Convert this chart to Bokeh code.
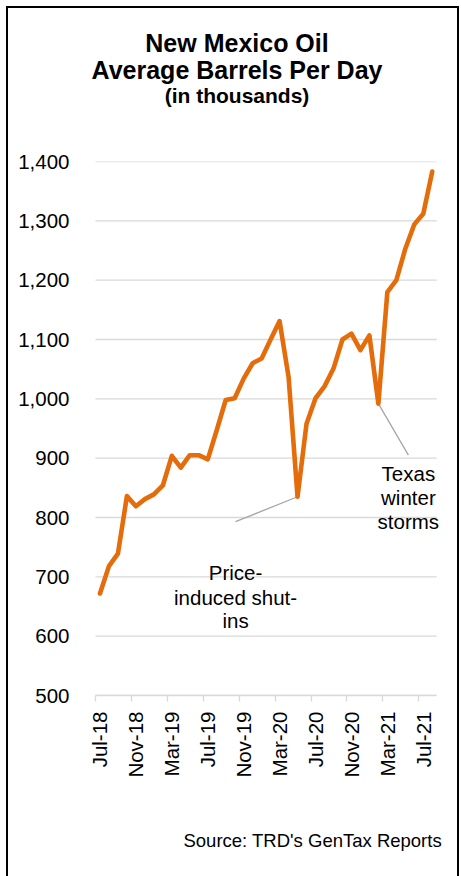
import math
from bokeh.plotting import figure
from bokeh.layouts import column
from bokeh.models import Range1d, FixedTicker, NumeralTickFormatter, Label, CustomJSTickFormatter
from bokeh.embed import file_html
from bokeh.resources import INLINE

# ---- data (thousands of barrels per day) ----
months = ["Jul-18", "Aug-18", "Sep-18", "Oct-18", "Nov-18", "Dec-18",
          "Jan-19", "Feb-19", "Mar-19", "Apr-19", "May-19", "Jun-19",
          "Jul-19", "Aug-19", "Sep-19", "Oct-19", "Nov-19", "Dec-19",
          "Jan-20", "Feb-20", "Mar-20", "Apr-20", "May-20", "Jun-20",
          "Jul-20", "Aug-20", "Sep-20", "Oct-20", "Nov-20", "Dec-20",
          "Jan-21", "Feb-21", "Mar-21", "Apr-21", "May-21", "Jun-21",
          "Jul-21", "Aug-21"]
barrels = [672, 718, 739, 836, 819, 831,
           839, 854, 904, 884, 905, 905,
           898, 947, 998, 1001, 1034, 1060,
           1068, 1100, 1131, 1037, 835, 958,
           1001, 1021, 1051, 1100, 1110, 1082,
           1107, 992, 1180, 1200, 1253, 1294,
           1312, 1383]
tick_labels = ["Jul-18", "Nov-18", "Mar-19", "Jul-19", "Nov-19",
               "Mar-20", "Jul-20", "Nov-20", "Mar-21", "Jul-21"]
y_ticks = [500, 600, 700, 800, 900, 1000, 1100, 1200, 1300, 1400]

title_lines = ["New Mexico Oil", "Average Barrels Per Day"]
subtitle = "(in thousands)"
source_text = "Source: TRD's GenTax Reports"
shutin_lines = ["Price-", "induced shut-", "ins"]
storm_lines = ["Texas", "winter", "storms"]
shutin_month = "May-20"
storm_month = "Feb-21"

# ---- derived positions ----
x = list(range(len(months)))
x_lo = -0.5
x_hi = len(months) - 0.5
tick_pos = [months.index(m) for m in tick_labels]
minor_pos = [t - 0.5 for t in tick_pos]

FONT = "Liberation Sans"
GRID = "#d9d9d9"
ORANGE = "#E46C0A"
LEADER = "#a6a6a6"
W = 449
BL, BR = 78, 15          # left / right borders shared by every panel
TOP_H = 130
MAIN_H = 657
BOT_H = 81


def text_panel(h):
    # frame coordinates equal canvas pixel coordinates (y downwards)
    f = figure(width=W, height=h, output_backend="svg", toolbar_location=None, tools="",
               x_range=Range1d(BL, W - BR), y_range=Range1d(h, 0),
               x_axis_type=None, y_axis_type=None,
               min_border_left=BL, min_border_right=BR,
               min_border_top=0, min_border_bottom=0)
    f.outline_line_color = None
    f.grid.visible = False
    f.background_fill_color = "white"
    f.border_fill_color = "white"
    return f


# ---- title panel ----
top = text_panel(TOP_H)
for txt, yy in zip(title_lines, [34.4, 61.1]):
    top.add_layout(Label(x=228.5, y=yy, text=txt, text_align="center", text_baseline="middle",
                         text_font=FONT, text_font_size="25px", text_font_style="bold",
                         text_color="#000000"))
top.add_layout(Label(x=228.5, y=87.4, text=subtitle, text_align="center", text_baseline="middle",
                     text_font=FONT, text_font_size="21px", text_font_style="bold",
                     text_color="#000000"))

# ---- main chart ----
p = figure(width=W, height=MAIN_H, output_backend="svg", toolbar_location=None, tools="",
           x_range=Range1d(-1.5, 38.14), y_range=Range1d(y_ticks[0], y_ticks[-1]),
           min_border_left=BL, min_border_right=BR, min_border_top=23, min_border_bottom=100)
p.outline_line_color = None
p.background_fill_color = "white"
p.border_fill_color = "white"

p.xaxis.bounds = (x_lo, x_hi)
p.xaxis.ticker = FixedTicker(ticks=tick_pos, minor_ticks=minor_pos)
p.xaxis.formatter = CustomJSTickFormatter(args=dict(pos=tick_pos, labs=tick_labels),
    code="const k = pos.indexOf(Math.round(tick)); return k >= 0 ? labs[k] : '';")
p.xaxis.axis_line_color = GRID
p.xaxis.axis_line_width = 1.3
p.xaxis.major_tick_line_color = None
p.xaxis.major_tick_out = 0
p.xaxis.major_tick_in = 0
p.xaxis.minor_tick_line_color = GRID
p.xaxis.minor_tick_line_width = 1.3
p.xaxis.minor_tick_out = 6
p.xaxis.minor_tick_in = 0
p.xaxis.major_label_orientation = math.pi / 2
p.xaxis.major_label_standoff = 10
p.xaxis.major_label_text_font = FONT
p.xaxis.major_label_text_font_size = "20.5px"
p.xaxis.major_label_text_color = "#000000"

p.yaxis.ticker = FixedTicker(ticks=y_ticks, minor_ticks=[])
p.yaxis.formatter = NumeralTickFormatter(format="0,0")
p.yaxis.axis_line_color = None
p.yaxis.major_tick_line_color = None
p.yaxis.minor_tick_line_color = None
p.yaxis.major_tick_out = 0
p.yaxis.major_tick_in = 0
p.yaxis.major_label_standoff = 17
p.yaxis.major_label_text_font = FONT
p.yaxis.major_label_text_font_size = "20.5px"
p.yaxis.major_label_text_color = "#000000"

p.grid.visible = False
# horizontal gridlines spanning the category area only
p.segment(x0=[x_lo] * len(y_ticks), x1=[x_hi] * len(y_ticks), y0=y_ticks, y1=y_ticks,
          line_color=GRID, line_width=1.3)

i_s = months.index(shutin_month)
i_w = months.index(storm_month)
p.segment(x0=[x[i_s]], y0=[barrels[i_s]], x1=[15.1], y1=[793],
          line_color=LEADER, line_width=1.3)
p.segment(x0=[x[i_w]], y0=[barrels[i_w]], x1=[34.34], y1=[905],
          line_color=LEADER, line_width=1.3)

p.line(x, barrels, line_color=ORANGE, line_width=4.6, line_join="round", line_cap="round")

for txt, yy in zip(shutin_lines, [707.5, 665.8, 625.9]):
    p.add_layout(Label(x=15.1, y=yy, text=txt, text_align="center", text_baseline="middle",
                       text_font=FONT, text_font_size="20.5px", text_color="#000000"))
for txt, yy in zip(storm_lines, [874.8, 833.9, 793.4]):
    p.add_layout(Label(x=34.34, y=yy, text=txt, text_align="center", text_baseline="middle",
                       text_font=FONT, text_font_size="20.5px", text_color="#000000"))

# ---- source panel ----
bot = text_panel(BOT_H)
bot.add_layout(Label(x=433.5, y=45.3, text=source_text, text_align="right",
                     text_baseline="middle", text_font=FONT, text_font_size="18.5px",
                     text_color="#000000"))

layout = column(top, p, bot, spacing=0)
layout.styles = {"position": "absolute", "left": "6px", "top": "6px",
                 "border-top": "2px solid black", "border-left": "2px solid black",
                 "border-right": "2px solid black"}

open("out.html", "w").write(file_html(layout, INLINE))
